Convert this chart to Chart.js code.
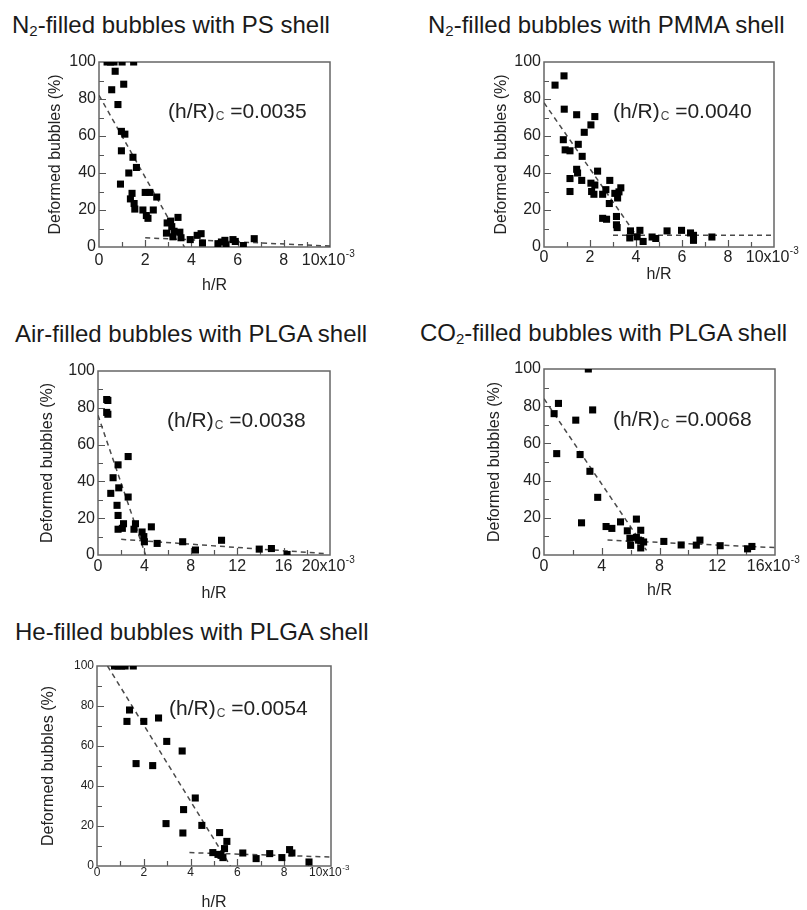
<!DOCTYPE html>
<html>
<head>
<meta charset="utf-8">
<script src="https://cdn.jsdelivr.net/npm/chart.js@4.4.0/dist/chart.umd.min.js"></script>
<style>
body { margin:0; background:#fff; width:807px; height:910px; position:relative; overflow:hidden; font-family:'Liberation Sans', Arial, sans-serif; }
.ttl { position:absolute; font-size:24px; line-height:24px; white-space:nowrap; color:#1a1a1a; }
.ttl sub { font-size:15px; vertical-align:-3px; line-height:0; }
canvas { position:absolute; }
</style>
</head>
<body>
<div class="ttl" style="left:12px;top:13px">N<sub>2</sub>-filled bubbles with PS shell</div>
<div class="ttl" style="left:428px;top:13px">N<sub>2</sub>-filled bubbles with PMMA shell</div>
<div class="ttl" style="left:15px;top:322px">Air-filled bubbles with PLGA shell</div>
<div class="ttl" style="left:420px;top:321px">CO<sub>2</sub>-filled bubbles with PLGA shell</div>
<div class="ttl" style="left:15px;top:620px">He-filled bubbles with PLGA shell</div>
<canvas id="c1"></canvas>
<canvas id="c2"></canvas>
<canvas id="c3"></canvas>
<canvas id="c4"></canvas>
<canvas id="c5"></canvas>
<script>
// h/R values are in units of 10^-3, deformed bubbles in %

// N2 / PS
const psX = [0.35, 0.5, 0.65, 1.0, 1.5, 0.7, 1.07, 0.55, 0.82, 0.97, 1.12, 0.97, 0.93, 1.47, 1.62, 1.29, 1.43, 1.36, 1.52, 1.55,
  2.0, 2.2, 2.5, 1.9, 2.05, 2.12, 2.35, 2.95, 3.1, 3.15, 3.42, 2.92, 3.25, 3.5, 3.2, 3.55,
  3.95, 4.25, 4.42, 4.48, 5.15, 5.3, 5.45, 5.5, 5.8, 5.9, 6.25, 6.72];
const psY = [100, 100, 100, 100, 100, 95, 88, 85, 77, 62.5, 61, 52, 34, 48.5, 43, 40, 29, 26, 23.5, 20.5,
  29.5, 29.5, 27, 20, 17, 15.5, 20, 13, 14, 11, 16, 7.5, 8.5, 8, 5.5, 5,
  4, 6.3, 7.2, 2.2, 1.8, 2.7, 3.6, 0.8, 4, 3, 0.8, 4.5];
const psSteepX = [0, 3.7], psSteepY = [82, 0];
const psFlatX = [2, 10], psFlatY = [5, 0.5];

// N2 / PMMA
const pmmaX = [0.48, 0.87, 0.88, 1.42, 2.21, 2.04, 1.75, 0.84, 0.92, 1.13, 1.49, 1.66, 1.42, 1.46, 1.64, 1.13, 1.13, 2.33,
  2.04, 2.21, 2.07, 2.17, 2.55, 2.69, 2.86, 2.84, 3.08, 3.2, 3.34, 3.26, 3.15, 3.15, 3.18, 2.55, 2.72,
  3.76, 3.73, 4.17, 4.05, 4.31, 4.7, 4.86, 5.35, 5.98, 6.37, 6.5, 6.5, 7.3];
const pmmaY = [87.5, 92.5, 74.5, 71.5, 70.5, 66, 62, 58, 52.5, 52, 55.5, 49, 42, 40, 36, 37, 30, 41,
  34.5, 33.5, 30, 28.5, 28.5, 31, 36, 23.5, 29, 26.5, 32, 29.8, 16.5, 12, 10.5, 15.5, 15,
  8.7, 4.9, 9, 5.5, 3, 5.4, 4.6, 8.7, 9, 7.6, 6.3, 3.6, 5.4];
const pmmaSteepX = [0, 4.0], pmmaSteepY = [78, 6.5];
const pmmaFlatX = [3, 10], pmmaFlatY = [6.3, 6.3];

// Air / PLGA
const airX = [0.75, 0.85, 0.75, 0.85, 2.6, 1.73, 1.3, 1.79, 1.1, 2.6, 1.64, 1.73, 1.73, 2.2, 2.1, 3.23, 3.1,
  3.8, 3.95, 4.0, 4.6, 5.1, 7.3, 8.4, 10.65, 13.9, 14.95, 16.3];
const airY = [84.5, 84, 77.5, 76.5, 53.5, 49, 42, 36.5, 33.5, 31.5, 27, 21.5, 14, 17, 14.5, 17, 14,
  12.5, 10, 7.2, 15.3, 6.3, 7.2, 2.7, 8, 3.2, 3.5, 0.3];
const airSteepX = [0, 4.1], airSteepY = [76, 0];
const airFlatX = [2, 19.5], airFlatY = [8.5, 0.8];

// CO2 / PLGA
const co2X = [3.07, 1.0, 0.7, 3.37, 2.2, 0.88, 2.5, 3.18, 3.72, 2.6, 4.3, 4.7, 5.3, 5.77, 6.4, 6.7, 5.95, 6.0,
  6.4, 6.55, 6.7, 6.7, 6.9, 8.3, 9.5, 10.55, 10.8, 12.2, 14.1, 14.4];
const co2Y = [100, 81.5, 76, 78, 72.5, 54.5, 54, 45, 31, 17.3, 15.3, 14.3, 17.8, 13, 19.3, 13.3, 9, 5.2,
  9.5, 8, 7.7, 3.8, 7, 7.3, 5.4, 5.3, 8, 5, 3.3, 4.6];
const co2SteepX = [0, 7.1], co2SteepY = [84, 2.5];
const co2FlatX = [4.4, 16], co2FlatY = [8, 4];

// He / PLGA
const heX = [0.75, 0.9, 1.05, 1.2, 1.55, 1.39, 1.28, 2.0, 2.63, 2.98, 3.64, 1.67, 2.38, 4.2, 3.7, 2.95, 4.48,
  3.67, 5.24, 5.55, 5.45, 4.95, 5.17, 5.3, 5.38, 6.23, 6.8, 7.38, 7.9, 8.23, 8.33, 9.06];
const heY = [100, 100, 100, 100, 100, 78, 72.3, 72.3, 74, 62.3, 57.5, 51.2, 50.2, 34, 28.2, 21.2, 20.3,
  16.5, 16.7, 12.3, 8.7, 6.7, 5.8, 5.3, 4.2, 6.5, 3.7, 6.2, 4.2, 8.2, 6.5, 2];
const heSteepX = [0.45, 5.7], heSteepY = [100, 0];
const heFlatX = [3.95, 10], heFlatY = [6.7, 4.5];

// critical thickness labels
const hrcLabels = ['0.0035', '0.0040', '0.0038', '0.0068', '0.0054'];
// x axis: max, label step, minor tick step
const xMaxes = [10, 10, 20, 16, 10];
const xSteps = [2, 2, 4, 4, 2];
const xMinors = [1, 1, 2, 2, 1];

const FONT = "'Liberation Sans', Arial, sans-serif";

function toPts(xs, ys) {
    return xs.map(function(v, i) { return { x: v, y: ys[i] }; });
}

// frame, inward ticks, last x label with exponent, (h/R)c text
const boxPlugin = {
    id: 'box',
    beforeDatasetsDraw(chart, args, opts) {
        const ctx = chart.ctx, a = chart.chartArea, x = chart.scales.x, y = chart.scales.y;
        ctx.save();
        ctx.strokeStyle = '#555';
        ctx.lineWidth = 1.2;
        ctx.beginPath();
        for (let i = 1; i < 10; i++) {
            const py = Math.round(y.getPixelForValue(i * 10)) + 0.5;
            ctx.moveTo(a.left, py);
            ctx.lineTo(a.left + (i % 2 ? 5 : 7), py);
        }
        const n = Math.round(x.max / opts.minor);
        for (let i = 1; i < n; i++) {
            const px = Math.round(x.getPixelForValue(i * opts.minor)) + 0.5;
            ctx.moveTo(px, a.bottom);
            ctx.lineTo(px, a.bottom - ((i * opts.minor) % xSteps[opts.k] ? 5 : 7));
        }
        ctx.stroke();
        ctx.strokeStyle = '#666';
        ctx.lineWidth = 1.5;
        ctx.strokeRect(a.left, a.top, a.right - a.left, a.bottom - a.top);
        ctx.restore();
    },
    afterDraw(chart, args, opts) {
        const ctx = chart.ctx, a = chart.chartArea, x = chart.scales.x;
        ctx.save();
        ctx.fillStyle = '#222';
        // last tick label  "NNx10^-3"
        const fs = opts.tickSize;
        const main = x.max + 'x10', sup = '-3';
        ctx.font = fs + 'px ' + FONT;
        const w1 = ctx.measureText(main).width;
        ctx.font = Math.round(fs * 0.65) + 'px ' + FONT;
        const w2 = ctx.measureText(sup).width;
        const cx = x.getPixelForValue(x.max);
        const ly = a.bottom + opts.tickPad + fs * 0.6;
        let lx = cx - (w1 + w2) / 2 - 2;
        ctx.textBaseline = 'middle';
        ctx.font = fs + 'px ' + FONT;
        ctx.fillText(main, lx, ly);
        ctx.font = Math.round(fs * 0.65) + 'px ' + FONT;
        ctx.fillText(sup, lx + w1 + 0.5, ly - fs * 0.38);

        // (h/R)c annotation
        ctx.textBaseline = 'alphabetic';
        let tx = a.left + opts.dx;
        const ty = a.top + opts.dy;
        ctx.font = '21px ' + FONT;
        ctx.fillText('(h/R)', tx, ty);
        tx += ctx.measureText('(h/R)').width + 1;
        ctx.font = '12px ' + FONT;
        ctx.fillStyle = '#444';
        ctx.fillText('C', tx, ty + 2);
        tx += ctx.measureText('C').width;
        ctx.font = '21px ' + FONT;
        ctx.fillStyle = '#222';
        ctx.fillText(' =' + opts.text, tx, ty);
        ctx.restore();
    }
};

const panels = [
    { id: 'c1', area: [99, 62, 330, 247], xs: psX, ys: psY, steep: [psSteepX, psSteepY], flat: [psFlatX, psFlatY],
      tickSize: 16, xTickPad: 4, xTitlePad: 12, yTitlePad: 37, dx: 69, dy: 56 },
    { id: 'c2', area: [544, 62, 774, 247], xs: pmmaX, ys: pmmaY, steep: [pmmaSteepX, pmmaSteepY], flat: [pmmaFlatX, pmmaFlatY],
      tickSize: 16, xTickPad: 1, xTitlePad: 23, yTitlePad: 38, dx: 69, dy: 56 },
    { id: 'c3', area: [98, 371, 330, 555], xs: airX, ys: airY, steep: [airSteepX, airSteepY], flat: [airFlatX, airFlatY],
      tickSize: 16, xTickPad: 2, xTitlePad: 12, yTitlePad: 30, dx: 69, dy: 56 },
    { id: 'c4', area: [544, 369, 775, 555], xs: co2X, ys: co2Y, steep: [co2SteepX, co2SteepY], flat: [co2FlatX, co2FlatY],
      tickSize: 16, xTickPad: 2, xTitlePad: 15, yTitlePad: 31, dx: 69, dy: 57 },
    { id: 'c5', area: [97, 666, 331, 866], xs: heX, ys: heY, steep: [heSteepX, heSteepY], flat: [heFlatX, heFlatY],
      tickSize: 12, xTickPad: -1, xTitlePad: 14, yTitlePad: 32, dx: 72, dy: 49 }
];

function drawPanel(p, k) {
    const aL = p.area[0], aT = p.area[1], aR = p.area[2], aB = p.area[3];
    const padL = 90, padT = 20, padR = 60, padB = 60;
    const cv = document.getElementById(p.id);
    cv.width = aR - aL + padL + padR;
    cv.height = aB - aT + padT + padB;
    cv.style.left = (aL - padL) + 'px';
    cv.style.top = (aT - padT) + 'px';
    const xMax = xMaxes[k];
    const lineStyle = { showLine: true, borderColor: '#4a4a4a', borderWidth: 1.5, borderDash: [5, 4], pointRadius: 0, order: 1 };

    new Chart(cv, {
        type: 'scatter',
        data: {
            datasets: [
                { data: toPts(p.xs, p.ys), pointStyle: 'rect', pointRadius: 5, pointBorderWidth: 0,
                  pointBackgroundColor: '#000', pointBorderColor: '#000', order: 0 },
                Object.assign({ data: toPts(p.steep[0], p.steep[1]) }, lineStyle),
                Object.assign({ data: toPts(p.flat[0], p.flat[1]) }, lineStyle)
            ]
        },
        options: {
            responsive: false,
            animation: false,
            events: [],
            layout: { padding: { left: 0, top: padT, right: padR, bottom: 0 } },
            plugins: {
                legend: { display: false },
                tooltip: { enabled: false },
                box: { k: k, minor: xMinors[k], text: hrcLabels[k], dx: p.dx, dy: p.dy, tickSize: p.tickSize, tickPad: p.xTickPad }
            },
            scales: {
                x: {
                    type: 'linear', min: 0, max: xMax,
                    grid: { display: false, drawTicks: false }, border: { display: false },
                    ticks: {
                        stepSize: xSteps[k], autoSkip: false, maxRotation: 0, padding: p.xTickPad,
                        color: '#222', font: { size: p.tickSize, family: FONT },
                        callback: function(v) { return v === xMax ? '' : v; }
                    },
                    title: { display: true, text: 'h/R', color: '#222', font: { size: 16, family: FONT },
                             padding: { top: 0, bottom: p.xTitlePad } },
                    afterFit: function(s) { s.height = padB; }
                },
                y: {
                    min: 0, max: 100,
                    grid: { display: false, drawTicks: false }, border: { display: false },
                    ticks: { stepSize: 20, padding: 3, color: '#222', font: { size: p.tickSize, family: FONT } },
                    title: { display: true, text: 'Deformed bubbles (%)', color: '#222', font: { size: 16, family: FONT },
                             padding: { top: p.yTitlePad, bottom: 0 } },
                    afterFit: function(s) { s.width = padL; }
                }
            }
        },
        plugins: [boxPlugin]
    });
}

panels.forEach(drawPanel);
</script>
</body>
</html>
